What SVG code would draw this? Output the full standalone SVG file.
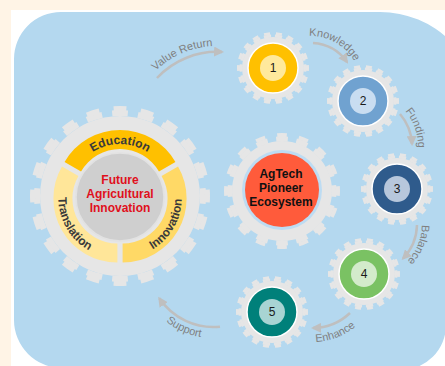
<svg xmlns="http://www.w3.org/2000/svg" xmlns:xlink="http://www.w3.org/1999/xlink" width="445" height="366" viewBox="0 0 445 366">
<defs>
<style>
.g{fill:#E6E6E6}
.tooth{fill:none;stroke:#E6E6E6}
.lbl{font-family:'Liberation Sans',Arial,sans-serif;font-size:11px;fill:#7F7F7F}
.arr{fill:none;stroke:#BFBFBF;stroke-width:2.5;marker-end:url(#ah)}
.num{font-family:'Liberation Sans',Arial,sans-serif;font-size:12px;fill:#1A1A1A;text-anchor:middle}
.ring{font-family:'Liberation Sans',Arial,sans-serif;font-size:12px;font-weight:bold;fill:#3A3A3A}
.red{font-family:'Liberation Sans',Arial,sans-serif;font-size:12px;font-weight:bold;fill:#E0101C;text-anchor:middle}
.blk{font-family:'Liberation Sans',Arial,sans-serif;font-size:12px;font-weight:bold;fill:#111111;text-anchor:middle}
.dot{stroke:#FFFFFF;stroke-width:1.5}
</style>
<marker id="ah" viewBox="0 0 10 10" refX="8" refY="5" markerWidth="10" markerHeight="10" markerUnits="userSpaceOnUse" orient="auto"><path d="M0,0 L10,5 L0,10 Z" fill="#BFBFBF"/></marker>
<g id="sgear">
<circle r="31" class="g"/>
<circle r="32" class="tooth" stroke-width="3" pathLength="360" stroke-dasharray="13 7" stroke-dashoffset="6.5"/>
<circle r="34.5" class="tooth" stroke-width="3" pathLength="360" stroke-dasharray="10 10" stroke-dashoffset="5"/>
</g>
<path id="p1" d="M132.6,109 A88,88 0 0 1 256.3,55.2"/>
<path id="p2" d="M291.4,39.4 A52,52 0 0 1 361.1,78.1"/>
<path id="p3" d="M390,98 A56,56 0 0 1 413.9,167.5"/>
<path id="p4" d="M418.7,204.9 A55,55 0 0 1 391.1,273.1"/>
<path id="p5" d="M288.6,337.8 A69,69 0 0 0 373.1,305.4"/>
<path id="p6" d="M141.9,288 A76,76 0 0 0 241.8,332.5"/>
<path id="r1" d="M70.76,185.32 A50,50 0 0 1 169.24,185.32"/>
<path id="r2" d="M61.96,178.32 A59,59 0 0 0 107.16,256.6"/>
<path id="r3" d="M132.84,256.6 A59,59 0 0 0 178.04,178.32"/>
</defs>

<rect x="0" y="0" width="445" height="366" fill="#FFF4E6"/>
<rect x="11" y="10" width="434" height="356" fill="#FFFFFF"/>
<path d="M14,59 A47,47 0 0 1 61,12 L380,12 A100,100 0 0 1 480,112 L480,300 L446,325 A45,45 0 0 1 401,370 L62,368 A48,48 0 0 1 14,320 Z" fill="#B4D8EF"/>

<g id="connectors">
<path class="arr" d="M157,78 A82,82 0 0 1 222,52"/>
<path class="arr" d="M313,43 A45,45 0 0 1 347,62"/>
<path class="arr" d="M400,114 A50,50 0 0 1 412,144"/>
<path class="arr" d="M417,225 A50,50 0 0 1 403,258.5"/>
<path class="arr" d="M350,313 A55,55 0 0 1 313,328"/>
<path class="arr" d="M220,326.7 A65,65 0 0 1 159.3,298.3"/>
<text class="lbl"><textPath href="#p1" startOffset="50%" text-anchor="middle">Value Return</textPath></text>
<text class="lbl"><textPath href="#p2" startOffset="50%" text-anchor="middle">Knowledge</textPath></text>
<text class="lbl"><textPath href="#p3" startOffset="50%" text-anchor="middle">Funding</textPath></text>
<text class="lbl"><textPath href="#p4" startOffset="50%" text-anchor="middle">Balance</textPath></text>
<text class="lbl"><textPath href="#p5" startOffset="50%" text-anchor="middle">Enhance</textPath></text>
<text class="lbl"><textPath href="#p6" startOffset="50%" text-anchor="middle">Support</textPath></text>
</g>

<g id="main-gear">
<circle cx="120" cy="196" r="80" class="g"/>
<circle cx="120" cy="196" r="83" class="tooth" stroke-width="6" pathLength="360" stroke-dasharray="11 7" stroke-dashoffset="5.5"/>
<circle cx="120" cy="196" r="87.5" class="tooth" stroke-width="5" pathLength="360" stroke-dasharray="8.5 9.5" stroke-dashoffset="4.25"/>
<path d="M64.57,165 A64,64 0 0 1 175.43,165 L158.97,174.5 A45,45 0 0 0 81.03,174.5 Z" fill="#FFC000" transform="translate(0,-3)"/>
<path d="M175.43,165 A64,64 0 0 1 120,261 L120,242 A45,45 0 0 0 158.97,174.5 Z" fill="#FFD966" transform="translate(2.6,1.5)"/>
<path d="M120,261 A64,64 0 0 1 64.57,165 L81.03,174.5 A45,45 0 0 0 120,242 Z" fill="#FFE699" transform="translate(-2.6,1.5)"/>
<circle cx="120" cy="197" r="44" fill="#CFCFCF" stroke="#E2E2E2" stroke-width="1.5"/>
<text class="ring"><textPath href="#r1" startOffset="50%" text-anchor="middle">Education</textPath></text>
<text class="ring"><textPath href="#r2" startOffset="50%" text-anchor="middle">Translation</textPath></text>
<text class="ring"><textPath href="#r3" startOffset="50%" text-anchor="middle">Innovation</textPath></text>
<text class="red" x="120" y="184">Future</text>
<text class="red" x="120" y="198">Agricultural</text>
<text class="red" x="120" y="212">Innovation</text>
</g>

<g id="center-gear">
<circle cx="282" cy="191" r="50" class="g"/>
<circle cx="282" cy="191" r="52" class="tooth" stroke-width="5" pathLength="360" stroke-dasharray="13 9.5" stroke-dashoffset="6.5"/>
<circle cx="282" cy="191" r="56" class="tooth" stroke-width="4" pathLength="360" stroke-dasharray="10 12.5" stroke-dashoffset="5"/>
<circle cx="282" cy="190" r="40" fill="#BDDCF3"/>
<circle cx="282" cy="190" r="37" fill="#FF5B3B"/>
<text class="blk" x="281" y="178">AgTech</text>
<text class="blk" x="281" y="192">Pioneer</text>
<text class="blk" x="281" y="206">Ecosystem</text>
</g>

<g id="gear1" transform="translate(273,68)">
<use href="#sgear"/>
<circle r="25" fill="#FFC000" class="dot"/>
<circle r="13" fill="#FFE99C"/>
<text class="num" y="4">1</text>
</g>
<g id="gear2" transform="translate(363,101)">
<use href="#sgear"/>
<circle r="25" fill="#70A2D0" class="dot"/>
<circle r="13" fill="#C9DDF1"/>
<text class="num" y="4">2</text>
</g>
<g id="gear3" transform="translate(397,189)">
<use href="#sgear"/>
<circle r="25" fill="#2F5B8C" class="dot"/>
<circle r="13" fill="#B7C7DC"/>
<text class="num" y="4">3</text>
</g>
<g id="gear4" transform="translate(364,274)">
<use href="#sgear"/>
<circle r="25" fill="#7AC263" class="dot"/>
<circle r="13" fill="#D3EBCB"/>
<text class="num" y="4">4</text>
</g>
<g id="gear5" transform="translate(272,312)">
<use href="#sgear"/>
<circle r="25" fill="#00807A" class="dot"/>
<circle r="13" fill="#A8D4D3"/>
<text class="num" y="4">5</text>
</g>
</svg>
